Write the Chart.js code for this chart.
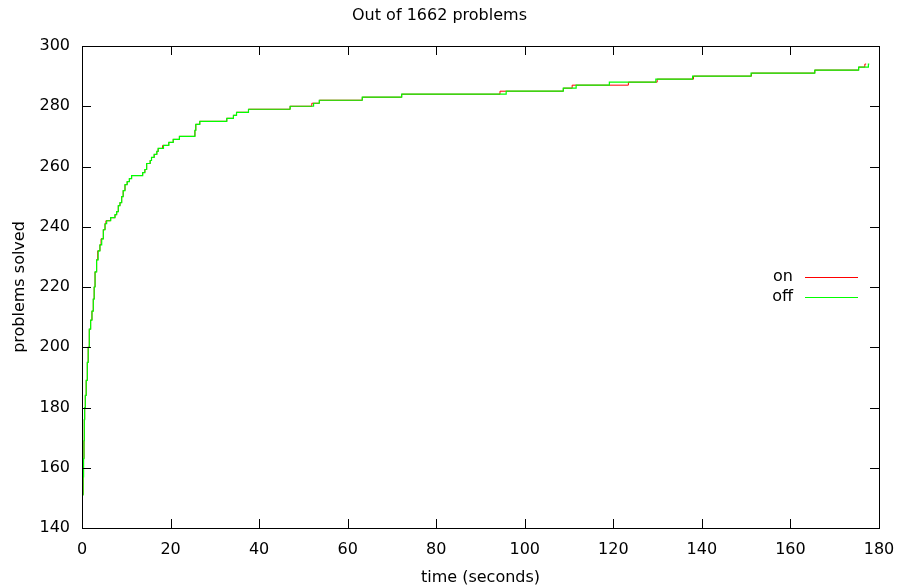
<!DOCTYPE html>
<html>
<head>
<meta charset="utf-8">
<title>Out of 1662 problems</title>
<script src="https://cdn.jsdelivr.net/npm/chart.js@4.4.1/dist/chart.umd.min.js"></script>
<style>
  html, body { margin: 0; padding: 0; background: #fff; }
  #wrap { width: 900px; height: 586px; }
</style>
</head>
<body>
<div id="wrap"><canvas id="chart" width="900" height="586"></canvas></div>
<script>
// solve times (seconds) and cumulative problems solved
const timesOn = [0.15, 0.25, 0.35, 0.45, 0.52, 0.6, 0.75, 0.95, 1.2, 1.4, 1.65, 1.95, 2.25, 2.55, 2.75, 2.95,
  3.3, 3.55, 4.05, 4.3, 4.82, 5.2, 5.4, 6.47, 7.45, 7.83, 8.2, 8.58, 8.96, 9.3, 9.71, 10.2, 10.7, 11.2,
  13.7, 14.2, 14.6, 15.4, 15.7, 16.3, 16.9, 17.2, 18.2, 19.6, 20.6, 22.0, 25.5, 25.7, 26.6,
  32.7, 34.2, 34.9, 37.6, 47.0, 51.9, 53.6, 63.3, 72.2, 94.4, 108.7, 110.7, 123.4, 129.9, 138.1,
  151.2, 165.5, 175.4, 176.8, 177.1];
const solvedOn = [151, 157, 163, 169, 176, 180, 184, 189, 195, 200, 206, 209, 212, 216, 220, 225,
  229, 232, 234, 236, 239, 241, 242, 243, 244, 245, 247, 248, 250, 252, 254, 255, 256, 257,
  258, 259, 261, 262, 263, 264, 265, 266, 267, 268, 269, 270, 272, 274, 275,
  276, 277, 278, 279, 280, 281, 282, 283, 284, 285, 286, 287, 288, 289, 290,
  291, 292, 293, 294, 294];

const timesOff = [0.15, 0.25, 0.35, 0.45, 0.52, 0.6, 0.75, 0.95, 1.2, 1.4, 1.65, 1.95, 2.25, 2.55, 2.75, 2.95,
  3.3, 3.65, 4.05, 4.45, 4.82, 5.2, 5.57, 6.47, 7.45, 7.83, 8.2, 8.58, 8.96, 9.3, 9.71, 10.2, 10.7, 11.2,
  13.7, 14.2, 14.6, 15.4, 15.7, 16.3, 16.9, 17.2, 18.4, 19.6, 20.6, 22.0, 25.5, 25.7, 26.6,
  32.7, 34.2, 34.9, 37.6, 47.0, 52.3, 53.6, 63.3, 72.2, 95.8, 108.7, 111.6, 119.1, 129.6, 137.9,
  151.1, 165.5, 175.4, 177.6, 177.8];
const solvedOff = [151, 157, 163, 169, 176, 180, 184, 189, 195, 200, 206, 209, 212, 216, 220, 225,
  229, 232, 234, 236, 239, 241, 242, 243, 244, 245, 247, 248, 250, 252, 254, 255, 256, 257,
  258, 259, 261, 262, 263, 264, 265, 266, 267, 268, 269, 270, 272, 274, 275,
  276, 277, 278, 279, 280, 281, 282, 283, 284, 285, 286, 287, 288, 289, 290,
  291, 292, 293, 294, 294];

const seriesLabels = ['on', 'off'];
const seriesColors = ['#ff0000', '#00ff00'];
const xTicks = [0, 20, 40, 60, 80, 100, 120, 140, 160, 180];
const yTicks = [140, 160, 180, 200, 220, 240, 260, 280, 300];

const FONT = 'DejaVu Sans';
Chart.defaults.font.family = FONT;
Chart.defaults.font.size = 16;
Chart.defaults.color = '#000';

const toPoints = (xs, ys) => xs.map((x, i) => ({ x: x, y: ys[i] }));

// gnuplot style frame: full border with inward ticks mirrored on all sides, plus key
const framePlugin = {
  id: 'frame',
  afterDraw(chart) {
    const { ctx, chartArea: a, scales } = chart;
    const tl = 9;
    ctx.save();
    ctx.strokeStyle = '#000';
    ctx.lineWidth = 1;
    ctx.beginPath();
    xTicks.forEach(v => {
      const px = Math.round(scales.x.getPixelForValue(v)) + 0.5;
      ctx.moveTo(px, a.bottom); ctx.lineTo(px, a.bottom - tl);
      ctx.moveTo(px, a.top); ctx.lineTo(px, a.top + tl);
    });
    yTicks.forEach(v => {
      const py = Math.round(scales.y.getPixelForValue(v)) + 0.5;
      ctx.moveTo(a.left, py); ctx.lineTo(a.left + tl, py);
      ctx.moveTo(a.right, py); ctx.lineTo(a.right - tl, py);
    });
    ctx.stroke();
    ctx.strokeRect(Math.round(a.left) + 0.5, Math.round(a.top) + 0.5,
      Math.round(a.right - a.left), Math.round(a.bottom - a.top));

    // key
    ctx.font = '16px "' + FONT + '"';
    ctx.textAlign = 'right';
    ctx.textBaseline = 'middle';
    seriesLabels.forEach((lab, i) => {
      const y = 277 + i * 20;
      ctx.fillStyle = '#000';
      ctx.fillText(lab, 793, y);
      ctx.strokeStyle = seriesColors[i];
      ctx.beginPath();
      ctx.moveTo(805, y + 0.5);
      ctx.lineTo(858, y + 0.5);
      ctx.stroke();
    });
    ctx.restore();
  }
};

new Chart(document.getElementById('chart'), {
  type: 'line',
  data: {
    datasets: [
      {
        label: seriesLabels[0],
        data: toPoints(timesOn, solvedOn),
        borderColor: seriesColors[0],
        borderWidth: 1,
        pointRadius: 0,
        stepped: 'before',
        fill: false,
        order: 1
      },
      {
        label: seriesLabels[1],
        data: toPoints(timesOff, solvedOff),
        borderColor: seriesColors[1],
        borderWidth: 1.2,
        pointRadius: 0,
        stepped: 'before',
        fill: false,
        order: 0
      }
    ]
  },
  options: {
    responsive: false,
    animation: false,
    layout: { padding: { left: 0, right: 21, top: 0, bottom: 0 } },
    plugins: {
      legend: { display: false },
      tooltip: { enabled: false },
      title: {
        display: true,
        text: 'Out of 1662 problems',
        font: { size: 16, weight: 'normal' },
        color: '#000',
        padding: { top: 6, bottom: 20.8 }
      }
    },
    scales: {
      x: {
        type: 'linear',
        min: 0,
        max: 180,
        afterBuildTicks: s => { s.ticks = xTicks.map(v => ({ value: v })); },
        afterFit: s => { s.height = 58; s.paddingLeft = 0; s.paddingRight = 0; },
        grid: { display: false, drawTicks: false },
        border: { display: false },
        ticks: { padding: 12, font: { size: 16 }, color: '#000', maxRotation: 0 },
        title: {
          display: true,
          text: 'time (seconds)',
          font: { size: 16 },
          color: '#000',
          padding: { top: 0, bottom: -1 }
        }
      },
      y: {
        type: 'linear',
        min: 140,
        max: 300,
        afterBuildTicks: s => { s.ticks = yTicks.map(v => ({ value: v })); },
        afterFit: s => { s.width = 82; s.paddingTop = 0; s.paddingBottom = 0; },
        grid: { display: false, drawTicks: false },
        border: { display: false },
        ticks: { padding: 12, font: { size: 16 }, color: '#000' },
        title: {
          display: true,
          text: 'problems solved',
          font: { size: 16 },
          color: '#000',
          padding: { top: 10, bottom: 0 }
        }
      }
    }
  },
  plugins: [framePlugin]
});
</script>
</body>
</html>
